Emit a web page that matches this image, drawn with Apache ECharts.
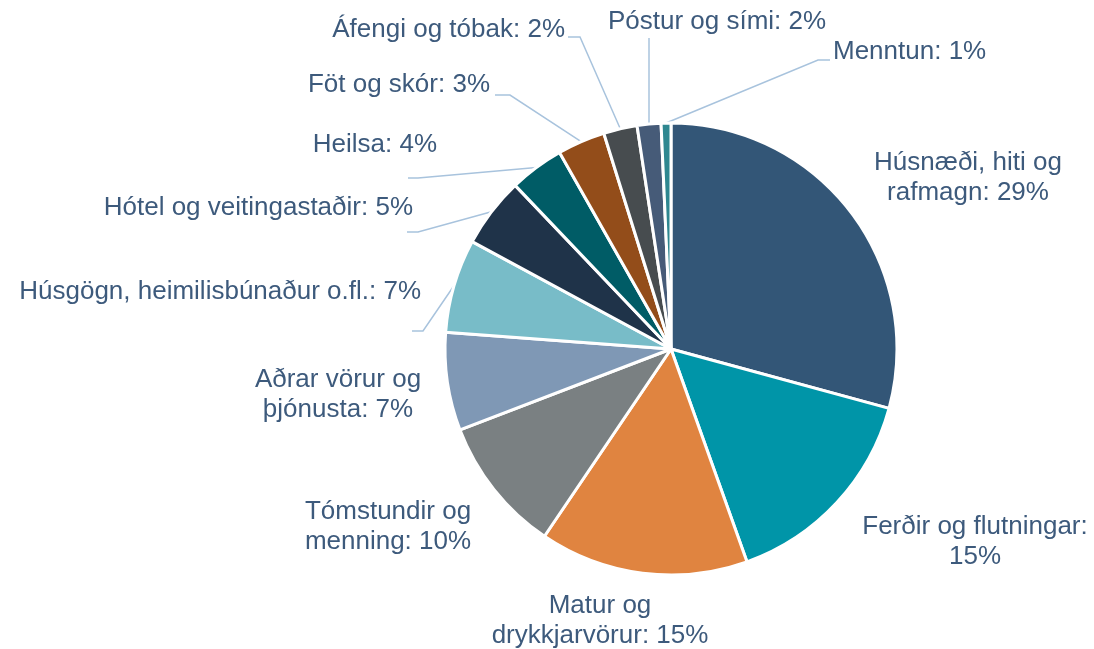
<!DOCTYPE html>
<html>
<head>
<meta charset="utf-8">
<title>Útgjöld heimila</title>
<script src="https://cdn.jsdelivr.net/npm/echarts@6/dist/echarts.min.js"></script>
<style>
  html, body { margin: 0; padding: 0; background: #fff; }
  #chart { width: 1094px; height: 649px; }
</style>
</head>
<body>
<div id="chart"></div>
<script>
// flokkar og hlutföll (%), lesið af myndinni
const categories = [
  'Húsnæði, hiti og\nrafmagn',
  'Ferðir og flutningar',
  'Matur og\ndrykkjarvörur',
  'Tómstundir og\nmenning',
  'Aðrar vörur og\nþjónusta',
  'Húsgögn, heimilisbúnaður o.fl.',
  'Hótel og veitingastaðir',
  'Heilsa',
  'Föt og skór',
  'Áfengi og tóbak',
  'Póstur og sími',
  'Menntun'
]
const shares = [29.2, 15.3, 14.9, 9.7, 7.0, 6.7, 5.0, 3.9, 3.4, 2.4, 1.7, 0.7]
const colors = ['#335677', '#0095a8', '#e08440', '#7a8082', '#7f98b5', '#78bcc8',
  '#1f3349', '#005c66', '#934d1a', '#474c4f', '#465b78', '#2e8790']

// staðsetning merkinga (x, y, jöfnun)
const labelPos = [
  [968, 178, 'center'],
  [975, 542, 'center'],
  [600, 621, 'center'],
  [388, 527, 'center'],
  [338, 395, 'center'],
  [421, 292, 'right'],
  [413, 208, 'right'],
  [437, 145, 'right'],
  [490, 85, 'right'],
  [565, 30, 'right'],
  [717, 22, 'center'],
  [833, 52, 'left']
]
// leiðarlínur: beygja og endi við merkingu (null = engin lína)
const leaderEnds = [
  null, null, null, null, null,
  [[423, 331], [412, 331]],
  [[418, 232], [407, 232]],
  [[418, 178], [408, 178]],
  [[510, 95], [495, 95]],
  [[580, 37], [568, 37]],
  'vertical',
  [[818, 60], [830, 60]]
]

const chart = echarts.init(document.getElementById('chart'))

const data = categories.map((name, i) => ({
  name: name,
  value: shares[i],
  itemStyle: { color: colors[i] },
  labelLine: { show: leaderEnds[i] !== null }
}))

const option = {
  backgroundColor: '#fff',
  animation: false,
  series: [{
    type: 'pie',
    center: [671, 349],
    radius: 226,
    startAngle: 90,
    clockwise: true,
    data: data,
    itemStyle: {
      borderColor: '#fff',
      borderWidth: 3
    },
    label: {
      show: true,
      position: 'outside',
      overflow: 'none',
      edgeDistance: 0,
      color: '#3d5a7c',
      fontFamily: 'Liberation Sans, Arial, sans-serif',
      fontSize: 26,
      lineHeight: 30,
      formatter: (p) => {
        const pct = Math.round(p.value) + '%'
        // Ferðir: hlutfallið á eigin línu
        if (p.dataIndex === 1) return p.name + ':\n' + pct
        return p.name + ': ' + pct
      }
    },
    labelLine: {
      length: 10,
      length2: 12,
      lineStyle: { color: '#a8c3dd', width: 1.5 }
    },
    labelLayout: (params) => {
      const i = params.dataIndex
      const pos = labelPos[i]
      const out = {
        x: pos[0],
        y: pos[1],
        align: pos[2],
        verticalAlign: 'middle',
        width: 460
      }
      const lead = leaderEnds[i]
      if (lead && params.labelLinePoints) {
        // byrjar á jaðri sneiðarinnar (miðhorn)
        const p0 = params.labelLinePoints[0]
        if (lead === 'vertical') {
          out.labelLinePoints = [[p0[0], p0[1]], [p0[0], 38], [p0[0], 38]]
        } else {
          out.labelLinePoints = [[p0[0], p0[1]], lead[0], lead[1]]
        }
      }
      return out
    }
  }]
}

chart.setOption(option)
</script>
</body>
</html>
